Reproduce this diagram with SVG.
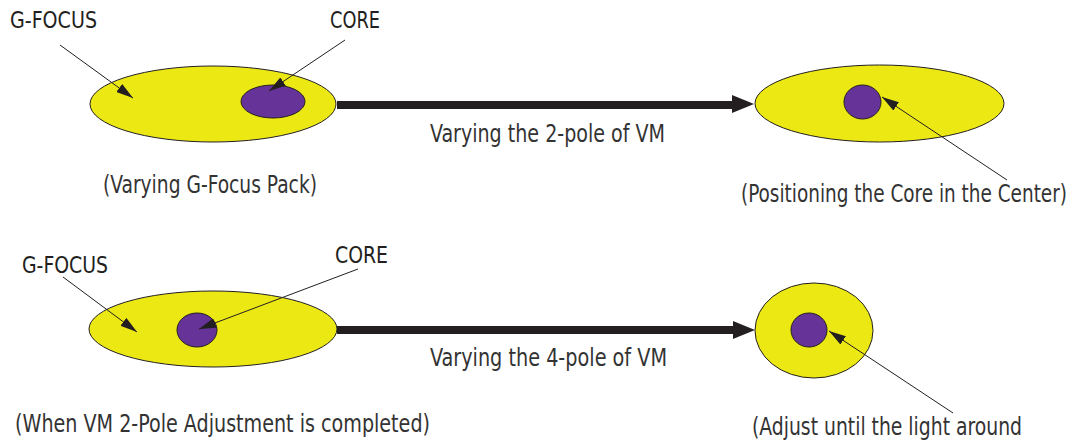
<svg xmlns="http://www.w3.org/2000/svg" width="1074" height="441" viewBox="0 0 1074 441">
<defs>
<style>
.g{fill:#ECE814;stroke:#231F20;stroke-width:1}
.c{fill:#663399;stroke:#231F20;stroke-width:1}
.t{font-family:"Liberation Sans Narrow","DejaVu Sans Condensed","Liberation Sans",sans-serif;fill:#333333;font-size:25.5px}
.lbl{font-size:23.5px;fill:#231F20}
.thin{stroke:#231F20;stroke-width:1;fill:none;marker-end:url(#ah)}
.thick{stroke:#231F20;stroke-width:8;fill:none}
.head{fill:#231F20}
</style>
<marker id="ah" viewBox="0 0 17 10" refX="17" refY="5" markerWidth="17" markerHeight="10" markerUnits="userSpaceOnUse" orient="auto">
<path d="M0,0 L17,5 L0,10 Z" fill="#231F20"/>
</marker>
</defs>
<rect width="1074" height="441" fill="#ffffff"/>
<g id="node-gfocus-top"><ellipse class="g" cx="213" cy="104" rx="123" ry="38"/></g>
<g id="node-core-top"><ellipse class="c" cx="273" cy="101.5" rx="32" ry="16.5"/></g>
<g id="node-gfocus-top-right"><ellipse class="g" cx="879.5" cy="103.5" rx="124.5" ry="38.5"/></g>
<g id="node-core-top-right"><ellipse class="c" cx="862.5" cy="102" rx="18.5" ry="17"/></g>
<g id="node-gfocus-bottom"><ellipse class="g" cx="213" cy="329" rx="124" ry="38"/></g>
<g id="node-core-bottom"><ellipse class="c" cx="197" cy="330" rx="20" ry="17"/></g>
<g id="node-gfocus-bottom-right"><ellipse class="g" cx="814" cy="330.5" rx="59" ry="47.5"/></g>
<g id="node-core-bottom-right"><ellipse class="c" cx="809" cy="330" rx="18" ry="17"/></g>
<g id="connectors">
<line class="thick" x1="337" y1="105" x2="734" y2="105"/>
<path class="head" d="M732,95 L754,104 L732,113 Z"/>
<line class="thick" x1="337" y1="330" x2="734" y2="330"/>
<path class="head" d="M733,321 L755,330 L733,339 Z"/>
<line class="thin" x1="60" y1="45" x2="133" y2="98"/>
<line class="thin" x1="345" y1="40" x2="269" y2="91"/>
<line class="thin" x1="1007" y1="180" x2="882" y2="97"/>
<line class="thin" x1="63" y1="277" x2="137" y2="332"/>
<line class="thin" x1="358" y1="269" x2="199" y2="329"/>
<line class="thin" x1="953" y1="413" x2="829" y2="331"/>
</g>
<g id="labels">
<text class="t lbl" x="10" y="28" textLength="87" lengthAdjust="spacingAndGlyphs">G-FOCUS</text>
<text class="t lbl" x="330" y="28" textLength="50" lengthAdjust="spacingAndGlyphs">CORE</text>
<text class="t" x="430" y="142" textLength="235" lengthAdjust="spacingAndGlyphs">Varying the 2-pole of VM</text>
<text class="t" x="103" y="193" textLength="214" lengthAdjust="spacingAndGlyphs">(Varying G-Focus Pack)</text>
<text class="t" x="741" y="202" textLength="326" lengthAdjust="spacingAndGlyphs">(Positioning the Core in the Center)</text>
<text class="t lbl" x="22" y="273" textLength="86" lengthAdjust="spacingAndGlyphs">G-FOCUS</text>
<text class="t lbl" x="335" y="263" textLength="53" lengthAdjust="spacingAndGlyphs">CORE</text>
<text class="t" x="430" y="366" textLength="237" lengthAdjust="spacingAndGlyphs">Varying the 4-pole of VM</text>
<text class="t" x="15" y="432" textLength="415" lengthAdjust="spacingAndGlyphs">(When VM 2-Pole Adjustment is completed)</text>
<text class="t" x="752" y="435" textLength="270" lengthAdjust="spacingAndGlyphs">(Adjust until the light around</text>
</g>
</svg>
